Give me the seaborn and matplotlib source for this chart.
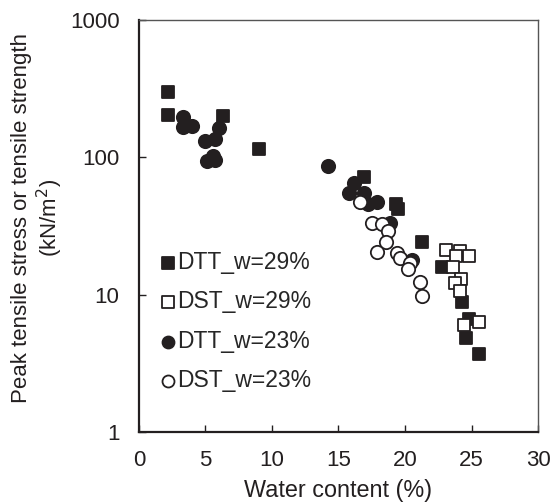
import numpy as np
import pandas as pd
import matplotlib
matplotlib.use("Agg")
import matplotlib.pyplot as plt
import seaborn as sns

# values (water content %, stress kN/m2)
dtt29_w = [2.2, 2.2, 6.3, 9.0, 16.9, 19.3, 19.5, 21.3, 22.8, 24.3, 24.8, 24.6, 25.6]
dtt29_s = [300, 204, 199, 115, 72, 46, 42, 24, 15.8, 8.9, 6.6, 4.85, 3.67]

dst29_w = [23.1, 24.1, 23.8, 24.8, 23.6, 24.2, 23.75, 24.1, 24.4, 25.6]
dst29_s = [21.2, 20.8, 19.2, 19.0, 15.8, 13.0, 12.2, 10.7, 6.0, 6.3]

dtt23_w = [3.3, 3.3, 4.0, 6.0, 5.7, 5.0, 5.6, 5.1, 5.7, 14.2, 16.2, 15.8, 16.9, 17.2, 17.9, 18.9, 20.5]
dtt23_s = [196, 165, 169, 164, 136, 131, 102, 94, 95, 86.5, 65, 55, 55, 46, 47.5, 33.4, 17.9]

dst23_w = [16.6, 17.5, 18.25, 18.75, 18.6, 17.9, 19.4, 19.6, 20.4, 20.25, 21.1, 21.3]
dst23_s = [47, 33, 32.7, 29, 24.3, 20.3, 20, 18.4, 17, 15.4, 12.4, 9.7]

labels = ["DTT_w=29%", "DST_w=29%", "DTT_w=23%", "DST_w=23%"]

frames = []
for lab, w, s in zip(labels, [dtt29_w, dst29_w, dtt23_w, dst23_w],
                     [dtt29_s, dst29_s, dtt23_s, dst23_s]):
    frames.append(pd.DataFrame({"water": w, "stress": s, "series": lab}))
df = pd.concat(frames, ignore_index=True)

sns.set_style("ticks")
plt.rcParams["font.family"] = ["Liberation Sans", "DejaVu Sans"]

ink = "#231f20"
styles = {
    "DTT_w=29%": dict(marker="s", fc=ink, s=78),
    "DST_w=29%": dict(marker="s", fc="white", s=78),
    "DTT_w=23%": dict(marker="o", fc=ink, s=92),
    "DST_w=23%": dict(marker="o", fc="white", s=92),
}

fig = plt.figure(figsize=(5.5, 5.03), dpi=100)
ax = fig.add_axes([0.2527, 0.1412, 0.7255, 0.819])

for lab in labels:
    st = styles[lab]
    sub = df[df["series"] == lab]
    sns.scatterplot(data=sub, x="water", y="stress", ax=ax, marker=st["marker"],
                    s=st["s"], facecolor=st["fc"], edgecolor=ink, linewidth=1.3,
                    label=lab)

ax.set_yscale("log")
ax.set_xlim(0, 30)
ax.set_ylim(1, 1000)
ax.set_xticks([0, 5, 10, 15, 20, 25, 30])
ax.set_yticks([1, 10, 100, 1000])
ax.set_yticklabels(["1", "10", "100", "1000"])
ax.minorticks_off()
ax.tick_params(direction="in", length=5, width=1, labelsize=16, colors=ink, pad=13)
ax.tick_params(axis="y", pad=14)

for side in ["left", "bottom"]:
    ax.spines[side].set_linewidth(1.6)
    ax.spines[side].set_color(ink)
for side in ["top", "right"]:
    ax.spines[side].set_visible(True)
    ax.spines[side].set_linewidth(1.0)
    ax.spines[side].set_color("#555555")

ax.set_xlabel("Water content (%)", fontsize=16.8, color=ink, labelpad=6)
ax.set_ylabel("Peak tensile stress or tensile strength\n(kN/m$^2$)", fontsize=16,
              color=ink, labelpad=8, linespacing=1.15)
ax.yaxis.set_label_coords(-0.185, 0.52)

ax.legend(loc="center left", bbox_to_anchor=(0.055, 0.268), frameon=False,
          fontsize=16.5, markerscale=0.9, handletextpad=0.1, labelspacing=0.72,
          handlelength=0.6, borderpad=0, borderaxespad=0)

fig.savefig("out.png", dpi=100)
